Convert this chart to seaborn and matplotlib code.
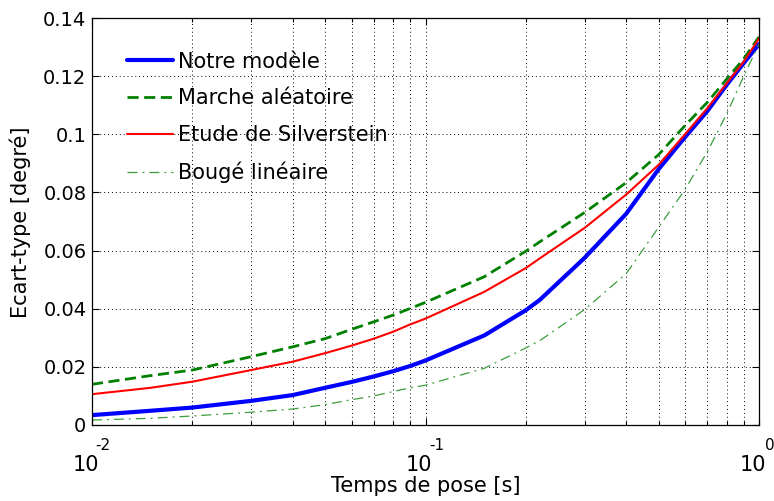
import matplotlib
matplotlib.use("Agg")
import matplotlib.pyplot as plt
import matplotlib.transforms as mtransforms
from matplotlib.ticker import FixedLocator, NullFormatter, FuncFormatter
import seaborn as sns
import pandas as pd

# ---- data ----
exposure = [0.01, 0.015, 0.02, 0.03, 0.04, 0.05, 0.06, 0.07, 0.08, 0.09, 0.1,
            0.15, 0.2, 0.22, 0.3, 0.4, 0.5, 0.6, 0.7, 0.8, 0.9, 1.0]
notre_modele = [0.0034, 0.0049, 0.0060, 0.0083, 0.0103, 0.0128, 0.0148, 0.0167,
                0.0185, 0.0203, 0.0222, 0.0308, 0.0395, 0.0430, 0.0575, 0.0727,
                0.0880, 0.0990, 0.1080, 0.1170, 0.1245, 0.1310]
marche_aleatoire = [0.0140, 0.0170, 0.0189, 0.0235, 0.0269, 0.0297, 0.0329, 0.0355,
                    0.0378, 0.0401, 0.0422, 0.0510, 0.0598, 0.0630, 0.0731, 0.0834,
                    0.0930, 0.1030, 0.1110, 0.1190, 0.1260, 0.1335]
silverstein = [0.0106, 0.0128, 0.0149, 0.0189, 0.0218, 0.0247, 0.0273, 0.0297,
               0.0321, 0.0346, 0.0366, 0.0458, 0.0540, 0.0573, 0.0678, 0.0793,
               0.0895, 0.1000, 0.1090, 0.1175, 0.1250, 0.1330]
bouge_lineaire = [0.0017, 0.0023, 0.0031, 0.0044, 0.0055, 0.0070, 0.0087, 0.0100,
                  0.0115, 0.0128, 0.0137, 0.0195, 0.0265, 0.0290, 0.0397, 0.0521,
                  0.0680, 0.0810, 0.0940, 0.1070, 0.1200, 0.1310]
labels = ["Notre modèle", "Marche aléatoire", "Etude de Silverstein", "Bougé linéaire"]
x_ticks = [0.01, 0.1, 1.0]
x_exponents = ["-2", "-1", "0"]
y_ticks = [0, 0.02, 0.04, 0.06, 0.08, 0.1, 0.12, 0.14]

sns.set_style("white")
plt.rcParams["font.family"] = ["DejaVu Sans"]
plt.rcParams["text.color"] = "black"
plt.rcParams["axes.labelcolor"] = "black"
plt.rcParams["xtick.color"] = "black"
plt.rcParams["ytick.color"] = "black"

fig = plt.figure(figsize=(7.74, 5.01), dpi=100)
ax = fig.add_axes([92 / 774, 76 / 501, 667 / 774, 407 / 501])

df = pd.DataFrame({"x": exposure, "blue": notre_modele, "green": marche_aleatoire,
                   "red": silverstein, "dd": bouge_lineaire})

styles = [
    ("blue", dict(color="#0000ff", linewidth=3.0, linestyle="-")),
    ("green", dict(color="#008000", linewidth=2.0, linestyle=(0, (4, 2)))),
    ("red", dict(color="#ff0000", linewidth=1.5, linestyle="-")),
    ("dd", dict(color="#3c9c3c", linewidth=0.9, linestyle=(0, (8, 4, 1.5, 4)))),
]
for (col, kw), lab in zip(styles, labels):
    sns.lineplot(data=df, x="x", y=col, ax=ax, label=lab, **kw)

ax.set_xscale("log")
ax.set_xlim(0.01, 1.0)
ax.set_ylim(0, 0.14)
ax.set_yticks(y_ticks)
ax.yaxis.set_major_formatter(FuncFormatter(lambda v, p: "%g" % v))
ax.xaxis.set_major_locator(FixedLocator(x_ticks))
ax.xaxis.set_major_formatter(NullFormatter())
ax.xaxis.set_minor_formatter(NullFormatter())

ax.grid(True, which="both", axis="x", color="black", linestyle=(0, (1, 3)), linewidth=0.7)
ax.grid(True, which="major", axis="y", color="black", linestyle=(0, (1, 3)), linewidth=0.7)
ax.tick_params(which="both", direction="in", top=True, right=True, bottom=True, left=True,
               length=5, width=0.8, colors="black", labelsize=14)
ax.tick_params(which="minor", length=3)
ax.tick_params(axis="y", pad=4)
for s in ax.spines.values():
    s.set_color("black")
    s.set_linewidth(0.9)

# MATLAB-style 10^n labels
trans = mtransforms.blended_transform_factory(ax.transData, ax.transAxes)
for xt, ex in zip(x_ticks, x_exponents):
    t1 = mtransforms.offset_copy(trans, fig=fig, x=-6.5, y=-40, units="dots")
    ax.text(xt, 0, "10", transform=t1, ha="center", va="center", fontsize=15, color="black")
    t2 = mtransforms.offset_copy(trans, fig=fig, x=11, y=-20, units="dots")
    ax.text(xt, 0, ex, transform=t2, ha="center", va="center", fontsize=11, color="black",
            clip_on=False)

ax.set_xlabel("")
ax.set_ylabel("")
fig.text(425.5 / 774, 1 - 486 / 501, "Temps de pose [s]", ha="center", va="center",
         fontsize=15, color="black")
fig.text(20 / 774, 1 - 222 / 501, "Ecart-type [degré]", ha="center", va="center",
         rotation=90, fontsize=15, color="black")

leg = ax.legend(loc="upper left", bbox_to_anchor=(0.040, 0.938), frameon=False,
                fontsize=15, handlelength=2.2, handletextpad=0.24, labelspacing=0.8,
                borderaxespad=0)
for t in leg.get_texts():
    t.set_color("black")

fig.savefig("out.png", dpi=100)
